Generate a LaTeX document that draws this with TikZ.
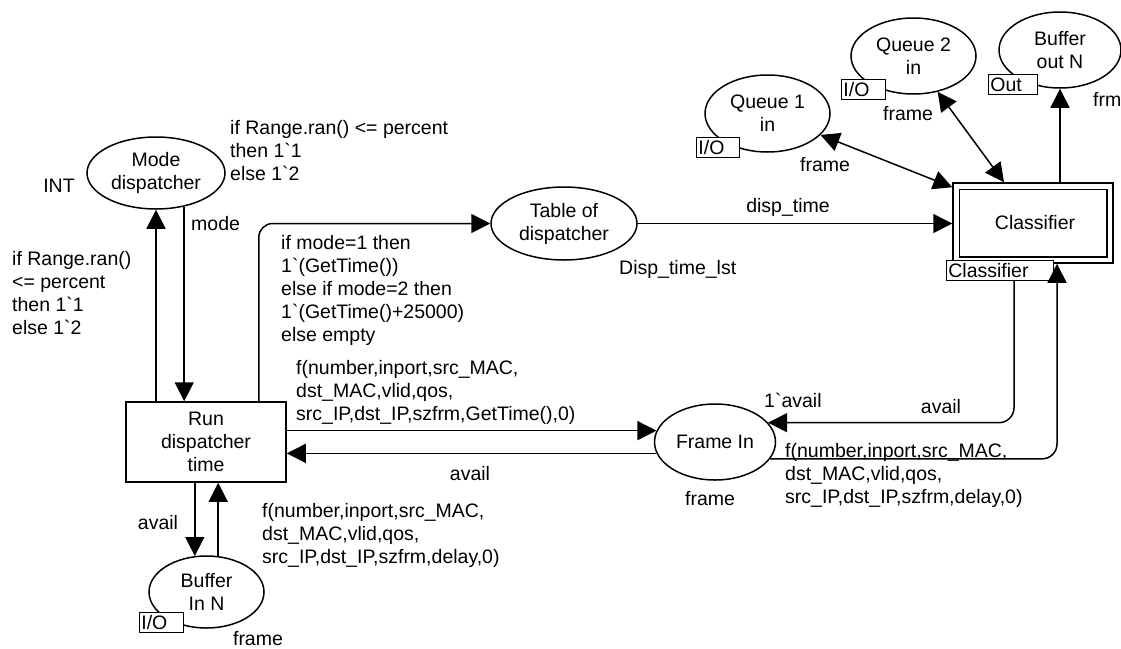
\documentclass[tikz,border=0pt]{standalone}
\usepackage{fontspec}
\newfontfamily\pnfont{Liberation Sans}
\usetikzlibrary{shapes.geometric,arrows.meta}

\begin{document}
\begin{tikzpicture}[x=1pt,y=-1pt,
  every node/.style={font=\pnfont\fontsize{19.5}{23}\selectfont},
  place/.style={draw, ellipse, line width=1.5pt, inner sep=0pt, align=center},
  trans/.style={draw, rectangle, line width=1.5pt, inner sep=0pt, align=center},
  tag/.style={draw, line width=0.8pt, fill=white, inner xsep=2pt, inner ysep=0pt,
              minimum height=20pt, anchor=north west, text height=14pt, text depth=0pt, align=left},
  pnarc/.style={line width=1.5pt, -{Triangle[length=19pt,width=19pt]}},
  pnboth/.style={line width=1.5pt, {Triangle[length=19pt,width=19pt]}-{Triangle[length=19pt,width=19pt]}},
  inscr/.style={inner sep=0pt, align=left, anchor=north west},
  word/.style={inner sep=0pt, anchor=base}
]
\useasboundingbox (0,0) rectangle (1121,648);

% places
\node[place, minimum width=138pt, minimum height=72pt] (mode) at (156,173) {Mode\\dispatcher};
\node[place, minimum width=115pt, minimum height=72pt] (bufin) at (206.5,592) {Buffer\\In N};
\node[place, minimum width=146pt, minimum height=73pt] (table) at (564,223.5) {Table of\\dispatcher};
\node[place, minimum width=121pt, minimum height=76pt] (framein) at (715,442) {Frame In};
\node[place, minimum width=125pt, minimum height=77pt] (q1) at (767.5,113.5) {Queue 1\\in};
\node[place, minimum width=125pt, minimum height=76pt] (q2) at (913.5,56) {Queue 2\\in};
\node[place, minimum width=122pt, minimum height=76pt] (bufout) at (1060,50) {Buffer\\out N};

% transitions
\node[trans, minimum width=160pt, minimum height=80pt] (run) at (206,442) {Run\\dispatcher\\time};
\node[trans, minimum width=160pt, minimum height=80pt] (cls) at (1033,223) {};
\draw[line width=1.5pt] ([xshift=7pt,yshift=-7pt]cls.north west) rectangle ([xshift=-7pt,yshift=7pt]cls.south east);
\node (clsname) at (1035,223) {Classifier};

% port and substitution tags
\node[tag, text width=40pt] (bufintag) at (139,612) {I/O};
\node[tag, text width=39pt] (q1tag) at (696,137) {I/O};
\node[tag, text width=40pt] (q2tag) at (841,79) {I/O};
\node[tag, text width=45pt] (bufouttag) at (988,74) {Out};
\node[tag, text width=103pt] (clstag) at (946,260) {Classifier};

% arcs
\draw[pnarc] (run.north -| mode.south) -- (mode.south);
\draw[pnarc] (mode.-50) -- (mode.-50 |- run.north);
\draw[pnarc] (run.south -| bufin.108) -- (bufin.108);
\draw[pnarc] (bufin.72) -- (bufin.72 |- run.south);
\coordinate (tabstart) at ([xshift=-28pt]run.north east);
\draw[pnarc, rounded corners=14pt] (tabstart) |- (table.west);
\draw[pnarc] (table.east) -- (table.east -| cls.west);
\draw[pnarc] (framein.169 -| run.east) -- (framein.169);
\draw[pnarc] (framein.191) -- (framein.191 -| run.east);
\coordinate (availtop) at ([xshift=-19pt]cls.south);
\draw[pnarc, rounded corners=15pt] (availtop |- clstag.south) |- (framein.20);
\coordinate (retend) at ([xshift=24pt]cls.south);
\draw[pnarc, rounded corners=15pt] (framein.-17) -| (retend);
\draw[pnarc] (bufout.south |- cls.north) -- (bufout.south);
\coordinate (q1end) at ([yshift=-5pt]cls.north west);
\draw[pnboth] (q1.-22) -- (q1end);
\coordinate (q2end) at ([xshift=-29pt]cls.north);
\draw[pnboth] (q2.-56) -- (q2end);

% colour sets, initial markings and inscriptions
\node[word] (modetype) at (59,192) {INT};
\node[inscr] (modeinit) at (230,120) {if Range.ran() <= percent\\then 1`1\\else 1`2};
\node[inscr] (upexpr) at (12,251) {if Range.ran()\\<= percent\\then 1`1\\else 1`2};
\node[word, anchor=base west] (downexpr) at (191,230) {mode};
\node[inscr] (tabexpr) at (281,235) {if mode=1 then\\1`(GetTime())\\else if mode=2 then\\1`(GetTime()+25000)\\else empty};
\node[inscr] (fwdexpr) at (296,360) {f(number,inport,src\_MAC,\\dst\_MAC,vlid,qos,\\src\_IP,dst\_IP,szfrm,GetTime(),0)};
\node[word] (backexpr) at (470,480) {avail};
\node[word] (bufinexpr) at (158,529) {avail};
\node[inscr] (bufoutexpr) at (262,503) {f(number,inport,src\_MAC,\\dst\_MAC,vlid,qos,\\src\_IP,dst\_IP,szfrm,delay,0)};
\node[word] (bufintype) at (258,645) {frame};
\node[word, anchor=base west] (tabtype) at (619,274) {Disp\_time\_lst};
\node[word] (tabexpr2) at (788,212) {disp\_time};
\node[word] (q1type) at (825,171) {frame};
\node[word] (q2type) at (908,120) {frame};
\node[word, anchor=base west] (bufouttype) at (1093,106) {frm};
\node[word, anchor=base west] (frameinit) at (764,407) {1`avail};
\node[word] (clsexpr) at (941,413) {avail};
\node[inscr] (retexpr) at (785,443) {f(number,inport,src\_MAC,\\dst\_MAC,vlid,qos,\\src\_IP,dst\_IP,szfrm,delay,0)};
\node[word] (frametype) at (710,505) {frame};
\end{tikzpicture}
\end{document}
